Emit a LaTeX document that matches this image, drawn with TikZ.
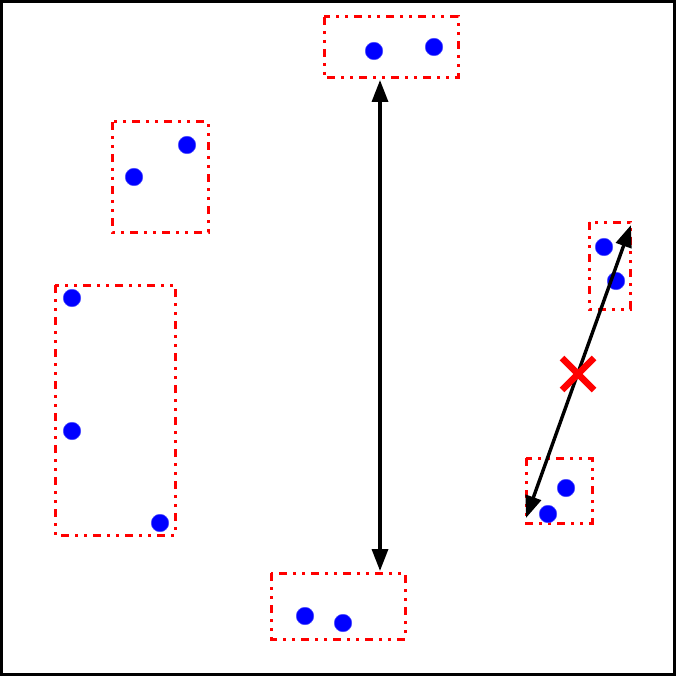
\documentclass[tikz,border=0pt]{standalone}
\usetikzlibrary{arrows.meta,calc}
\begin{document}
\begin{tikzpicture}[x=1pt,y=-1pt,
  pt/.style={circle,fill=blue,draw=blue!70!white,line width=0.5pt,inner sep=0pt,minimum size=17.5pt},
  grp/.style={draw=red,line width=3pt,dash pattern=on 8pt off 6pt on 3pt off 6pt on 3pt off 6pt},
  arr/.style={line width=3.4pt,{Triangle[length=22pt,width=16pt]}-{Triangle[length=22pt,width=16pt]}}]
\useasboundingbox (0,0) rectangle (676,676);
\draw[line width=3pt] (1.5,1.5) rectangle (674.5,674.5);
% groups
\draw[grp] (324,17) rectangle (458,78);
\draw[grp] (112,122) rectangle (208,232);
\draw[grp] (55,285) rectangle (175,535);
\draw[grp] (271,573) rectangle (405,639);
\draw[grp] (589,222) rectangle (630,309);
\draw[grp] (526,458) rectangle (592,523);
% points
\node[pt] (a1) at (374,51) {};
\node[pt] (a2) at (434,47) {};
\node[pt] (b1) at (134,177) {};
\node[pt] (b2) at (187,145) {};
\node[pt] (c1) at (72,298) {};
\node[pt] (c2) at (72,431) {};
\node[pt] (c3) at (160,523) {};
\node[pt] (d1) at (305,616) {};
\node[pt] (d2) at (343,623) {};
\node[pt] (e1) at (604,247) {};
\node[pt] (e2) at (616,281) {};
\node[pt] (f1) at (566,488) {};
\node[pt] (f2) at (548,514) {};
% arrows
\coordinate (v1) at (380,80);
\coordinate (v2) at (380,571);
\draw[arr] (v1) -- (v2);
\coordinate (w1) at (631,225);
\coordinate (w2) at (526,518);
\draw[arr] (w1) -- (w2);
% cross marker
\coordinate (m) at (578,374);
\draw[red,line width=6.5pt] ($(m)+(-16,-16)$) -- ($(m)+(16,16)$) ($(m)+(-16,16)$) -- ($(m)+(16,-16)$);
\end{tikzpicture}
\end{document}
